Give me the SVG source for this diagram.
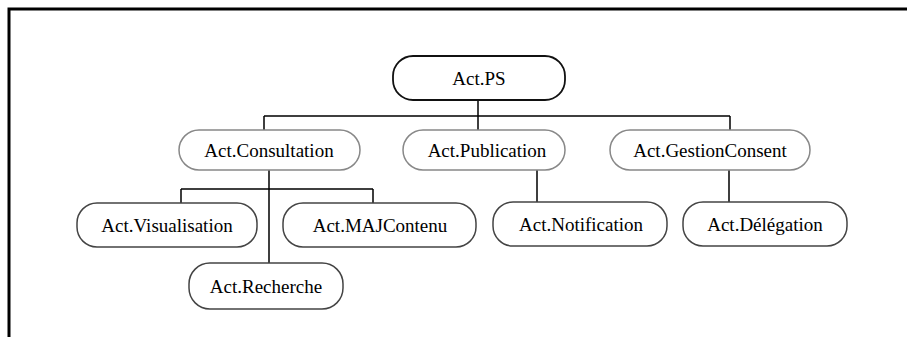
<svg xmlns="http://www.w3.org/2000/svg" width="907" height="337" viewBox="0 0 907 337">
<style>
.n rect{fill:#fff;stroke:#444;stroke-width:1.5}
.n.l2 rect{stroke:#888}
.n text{font-family:"Liberation Serif","Times New Roman",serif;font-size:19px;fill:#000;text-anchor:middle;dominant-baseline:central}
.c{stroke:#000;stroke-width:1.5;fill:none}
</style>
<rect width="907" height="337" fill="#fff"/>
<path d="M9,337 V9 H907" stroke="#000" stroke-width="3" fill="none"/>
<g id="connectors" class="c">
<path d="M478,100 V116 M264,116 H730 M264,116 V130 M478,116 V130 M730,116 V130"/>
<path d="M269,170 V263 M181,189 H373 M181,189 V203 M373,189 V203"/>
<path d="M537,170 V202 M729,170 V202"/>
</g>
<g id="ps" class="n"><rect x="393" y="56" width="172" height="44" rx="20" style="stroke:#111;stroke-width:1.8"/><text x="479" y="78">Act.PS</text></g>
<g id="consultation" class="n l2"><rect x="179" y="130" width="181" height="40" rx="20"/><text x="269" y="150">Act.Consultation</text></g>
<g id="publication" class="n l2"><rect x="403" y="130" width="162" height="40" rx="20"/><text x="487" y="150">Act.Publication</text></g>
<g id="gestionconsent" class="n l2"><rect x="610" y="130" width="200" height="40" rx="20"/><text x="710" y="150">Act.GestionConsent</text></g>
<g id="visualisation" class="n"><rect x="77" y="203" width="180" height="44" rx="20"/><text x="167" y="225">Act.Visualisation</text></g>
<g id="majcontenu" class="n"><rect x="283" y="203" width="193" height="44" rx="20"/><text x="380" y="225">Act.MAJContenu</text></g>
<g id="recherche" class="n"><rect x="189" y="263" width="154" height="46" rx="21"/><text x="266" y="286">Act.Recherche</text></g>
<g id="notification" class="n"><rect x="493" y="202" width="174" height="44" rx="20"/><text x="581" y="224">Act.Notification</text></g>
<g id="delegation" class="n"><rect x="683" y="202" width="164" height="44" rx="20"/><text x="765" y="224">Act.Délégation</text></g>
</svg>
